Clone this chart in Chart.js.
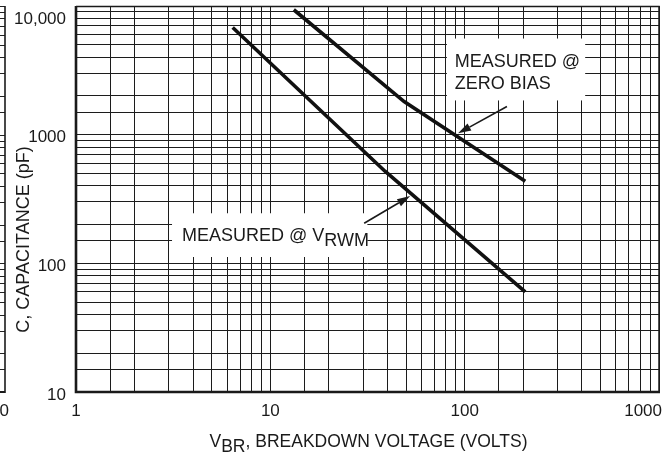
<!DOCTYPE html>
<html>
<head>
<meta charset="utf-8">
<script src="https://cdn.jsdelivr.net/npm/chart.js@4/dist/chart.umd.min.js"></script>
<style>
html,body{margin:0;padding:0;background:#fff;}
canvas{display:block;}
</style>
</head>
<body>
<canvas id="c" width="666" height="462"></canvas>
<script>
// ---- data ----
const zeroBiasVoltage = [13.2, 48.8, 205];
const zeroBiasCap     = [9350, 1810, 435];
const rwmVoltage      = [6.4, 38.9, 205];
const rwmCap          = [6800, 520, 60];

const xTickValues = [1, 10, 100, 1000];
const xTickLabels = ['1', '10', '100', '1000'];
const yTickValues = [10, 100, 1000, 10000];
const yTickLabels = ['10', '100', '1000', '10,000'];
const gridSteps   = [1, 1.5, 2, 3, 4, 5, 6, 7, 8, 9];

const xTitleMain = 'V';
const xTitleSub  = 'BR';
const xTitleRest = ', BREAKDOWN VOLTAGE (VOLTS)';
const yTitle     = 'C, CAPACITANCE (pF)';
const zeroBiasLabel = ['MEASURED @', 'ZERO BIAS'];
const rwmLabelMain  = 'MEASURED @ V';
const rwmLabelSub   = 'RWM';

// annotation anchors (data coordinates)
const zeroBiasBox   = {x0: 81, x1: 417, y0: 5585, y1: 1845};
const zeroBiasText  = {x: 89, y1: 3340, y2: 2275};
const zeroBiasArrow = {fromX: 165, fromY: 1656, toX: 92.5, toY: 1024};
const rwmBox        = {x0: 3.12, x1: 31.5, y0: 245, y1: 112};
const rwmText       = {x: 3.51, y: 149};
const rwmArrow      = {fromX: 30.4, fromY: 205, toX: 52.4, toY: 333};

function gridValues(lo, hi) {
  const out = [];
  for (let d = lo; d < hi; d *= 10) gridSteps.forEach(s => out.push(+(d * s).toPrecision(6)));
  out.push(hi);
  return out.map(v => ({value: v}));
}

const FONT = "'Liberation Sans', Arial, sans-serif";
const INK = '#1a1a1a';

function arrow(g, x0, y0, x1, y1) {
  const ang = Math.atan2(y1 - y0, x1 - x0);
  const L = 13, W = 4;
  const bx = x1 - L * Math.cos(ang), by = y1 - L * Math.sin(ang);
  g.strokeStyle = INK; g.lineWidth = 1.6;
  g.beginPath(); g.moveTo(x0, y0); g.lineTo(bx, by); g.stroke();
  g.fillStyle = INK;
  g.beginPath();
  g.moveTo(x1, y1);
  g.lineTo(bx + W * Math.sin(ang), by - W * Math.cos(ang));
  g.lineTo(bx - W * Math.sin(ang), by + W * Math.cos(ang));
  g.closePath(); g.fill();
}

const decor = {
  id: 'decor',
  beforeDraw(c) {
    const g = c.ctx; g.save(); g.fillStyle = '#fff'; g.fillRect(0, 0, c.width, c.height); g.restore();
  },
  beforeDatasetsDraw(c) {
    const g = c.ctx, xs = c.scales.x, ys = c.scales.y, a = c.chartArea;
    g.save();
    // white label boxes
    g.fillStyle = '#fff';
    [zeroBiasBox, rwmBox].forEach(b => {
      const x0 = xs.getPixelForValue(b.x0), x1 = xs.getPixelForValue(b.x1);
      const y0 = ys.getPixelForValue(b.y0), y1 = ys.getPixelForValue(b.y1);
      g.fillRect(x0, y0, x1 - x0, y1 - y0);
    });
    // frame
    g.strokeStyle = INK;
    g.lineWidth = 1.5;
    g.beginPath(); g.moveTo(a.left, a.top + 0.5); g.lineTo(a.right, a.top + 0.5); g.lineTo(a.right, a.bottom); g.stroke();
    g.lineWidth = 2.6;
    g.beginPath(); g.moveTo(a.left, a.top); g.lineTo(a.left, a.bottom); g.lineTo(a.right + 1, a.bottom); g.stroke();
    // fragment of the neighbouring chart at the left edge
    g.strokeStyle = '#222'; g.lineWidth = 1;
    ys.ticks.forEach(t => {
      const y = Math.round(ys.getPixelForValue(t.value)) + 0.5;
      g.beginPath(); g.moveTo(0, y); g.lineTo(5, y); g.stroke();
    });
    g.strokeStyle = INK; g.lineWidth = 1.6;
    g.beginPath(); g.moveTo(5, a.top); g.lineTo(5, a.bottom + 1); g.stroke();
    g.lineWidth = 2;
    g.beginPath(); g.moveTo(0, a.bottom); g.lineTo(5, a.bottom); g.stroke();
    g.restore();
  },
  afterDatasetsDraw(c) {
    const g = c.ctx, xs = c.scales.x, ys = c.scales.y, a = c.chartArea;
    g.save();
    g.fillStyle = INK;
    // tick labels
    g.font = '17px ' + FONT;
    g.textBaseline = 'middle';
    g.textAlign = 'right';
    yTickValues.forEach((v, i) => {
      let y = ys.getPixelForValue(v) + 3;
      y = Math.max(y, a.top + 13);
      g.fillText(yTickLabels[i], a.left - 10, y);
    });
    g.textAlign = 'left';
    xTickValues.forEach((v, i) => {
      const w = g.measureText(xTickLabels[i]).width;
      let x = xs.getPixelForValue(v) - w / 2;
      x = Math.min(x, c.width - 4 - w);
      g.fillText(xTickLabels[i], x, a.bottom + 19);
    });
    g.textAlign = 'right';
    g.fillText('0', 9, a.bottom + 19);

    // axis titles
    g.font = '17.5px ' + FONT;
    g.textBaseline = 'alphabetic';
    g.textAlign = 'left';
    const w1 = g.measureText(xTitleMain).width, w2 = g.measureText(xTitleSub).width, w3 = g.measureText(xTitleRest).width;
    let tx = (a.left + a.right) / 2 - (w1 + w2 + w3) / 2 + 1;
    const ty = a.bottom + 55;
    g.fillText(xTitleMain, tx, ty); tx += w1;
    g.fillText(xTitleSub, tx, ty + 5); tx += w2;
    g.fillText(xTitleRest, tx, ty);

    g.save();
    g.font = '18px ' + FONT;
    g.translate(29, a.top + (a.bottom - a.top) * 0.605);
    g.rotate(-Math.PI / 2);
    g.textAlign = 'center';
    g.fillText(yTitle, 0, 0);
    g.restore();

    // annotations
    g.font = '18px ' + FONT;
    g.textAlign = 'left';
    const zx = xs.getPixelForValue(zeroBiasText.x);
    g.fillText(zeroBiasLabel[0], zx, ys.getPixelForValue(zeroBiasText.y1));
    g.fillText(zeroBiasLabel[1], zx, ys.getPixelForValue(zeroBiasText.y2));
    arrow(g, xs.getPixelForValue(zeroBiasArrow.fromX), ys.getPixelForValue(zeroBiasArrow.fromY),
             xs.getPixelForValue(zeroBiasArrow.toX), ys.getPixelForValue(zeroBiasArrow.toY));

    const rx = xs.getPixelForValue(rwmText.x), ry = ys.getPixelForValue(rwmText.y);
    g.fillStyle = INK;
    g.fillText(rwmLabelMain, rx, ry);
    const rw = g.measureText(rwmLabelMain).width;
    g.fillText(rwmLabelSub, rx + rw, ry + 5);
    arrow(g, xs.getPixelForValue(rwmArrow.fromX), ys.getPixelForValue(rwmArrow.fromY),
             xs.getPixelForValue(rwmArrow.toX), ys.getPixelForValue(rwmArrow.toY));
    g.restore();
  }
};

const toPoints = (xs, ys) => xs.map((v, i) => ({x: v, y: ys[i]}));

new Chart(document.getElementById('c'), {
  type: 'line',
  data: {
    datasets: [
      {label: 'Measured @ zero bias', data: toPoints(zeroBiasVoltage, zeroBiasCap),
       borderColor: '#111', borderWidth: 3.6, pointRadius: 0, tension: 0, fill: false},
      {label: 'Measured @ VRWM', data: toPoints(rwmVoltage, rwmCap),
       borderColor: '#111', borderWidth: 3.6, pointRadius: 0, tension: 0, fill: false}
    ]
  },
  options: {
    responsive: false,
    animation: false,
    devicePixelRatio: 1,
    layout: {padding: {left: 0, right: 7, top: 6, bottom: 70}},
    plugins: {legend: {display: false}, tooltip: {enabled: false}},
    scales: {
      x: {
        type: 'logarithmic', min: 1, max: 1000,
        afterBuildTicks: s => { s.ticks = gridValues(1, 1000); },
        ticks: {display: false},
        grid: {color: '#1c1c1c', lineWidth: 1, drawTicks: false},
        border: {display: false},
        afterFit: s => { s.height = 0; }
      },
      y: {
        type: 'logarithmic', min: 10, max: 10000,
        afterBuildTicks: s => { s.ticks = gridValues(10, 10000); },
        ticks: {display: false},
        grid: {color: '#1c1c1c', lineWidth: 1, drawTicks: false},
        border: {display: false},
        afterFit: s => { s.width = 76; }
      }
    }
  },
  plugins: [decor]
});
</script>
</body>
</html>
